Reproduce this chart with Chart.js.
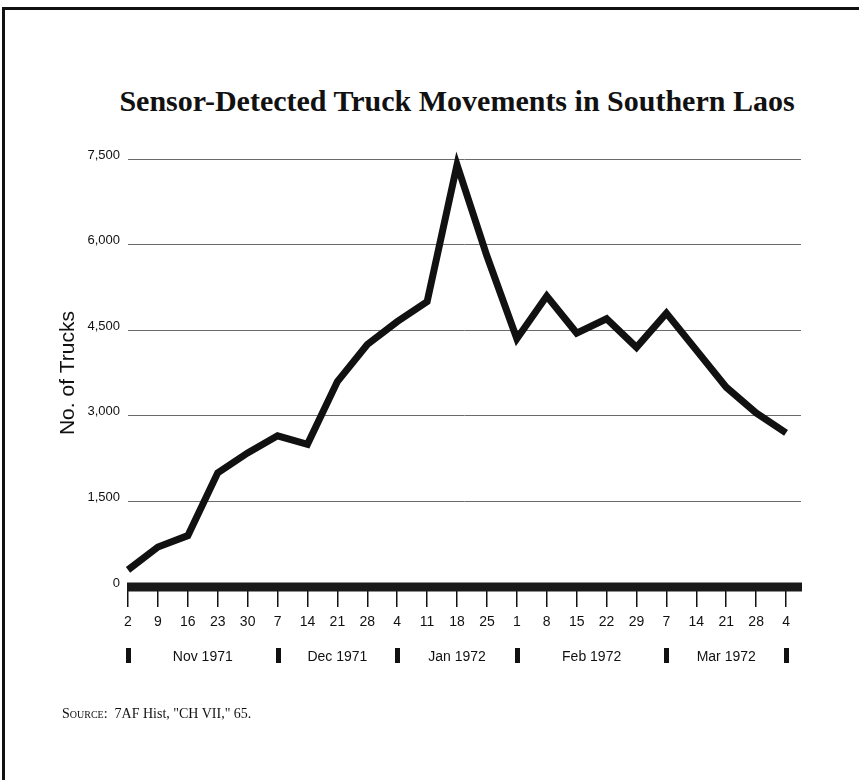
<!DOCTYPE html>
<html>
<head>
<meta charset="utf-8">
<script src="https://cdn.jsdelivr.net/npm/chart.js@4/dist/chart.umd.min.js"></script>
<style>
  html, body { margin: 0; padding: 0; background: #fff; }
  #page { position: relative; width: 859px; height: 780px; overflow: hidden; }
  #frame { position: absolute; left: 2px; top: 7px; right: -10px; bottom: -10px;
           border-top: 3px solid #111; border-left: 3px solid #111; }
  #title { position: absolute; top: 84px; left: 57px; width: 800px; text-align: center;
           font: bold 30px "Liberation Serif", "Times New Roman", serif; color: #111; }
  #source { position: absolute; top: 706px; left: 62px;
            font: 14px "Liberation Serif", "Times New Roman", serif; color: #111; }
  #chartBox { position: absolute; left: 0; top: 0; width: 859px; height: 780px; }
</style>
</head>
<body>
<div id="page">
  <div id="frame"></div>
  <div id="title">Sensor-Detected Truck Movements in Southern Laos</div>
  <div id="chartBox"><canvas id="truckChart"></canvas></div>
  <div id="source"><span style="font-variant: small-caps">Source:</span>&nbsp; 7AF Hist, "CH VII," 65.</div>
</div>
<script>
// weekly readings, 2 Nov 1971 - 4 Mar 1972
var dayLabels = ["2", "9", "16", "23", "30", "7", "14", "21", "28", "4", "11", "18", "25",
                 "1", "8", "15", "22", "29", "7", "14", "21", "28", "4"];
var truckCounts = [300, 700, 900, 2000, 2350, 2650, 2500, 3600, 4250, 4650, 5000, 7400, 5800,
                   4350, 5100, 4450, 4700, 4200, 4800, 4150, 3500, 3050, 2700];
var monthNames = ["Nov 1971", "Dec 1971", "Jan 1972", "Feb 1972", "Mar 1972"];
var monthBreaks = [0, 5, 9, 13, 18, 22]; // index of the week where each month marker sits
var yMax = 7500;
var yStep = 1500;

Chart.defaults.font.family = '"Liberation Sans", Arial, Helvetica, sans-serif';
Chart.defaults.color = "#111";

// thick base bar, month markers and month names
var axisExtras = {
  id: "axisExtras",
  beforeDatasetsDraw(chart) {
    const ctx = chart.ctx;
    const area = chart.chartArea;
    const y0 = chart.scales.y.getPixelForValue(0);
    ctx.save();
    ctx.fillStyle = "#1a1a1a";
    ctx.fillRect(area.left - 1, y0 - 4.5, area.right - area.left + 2, 9);
    ctx.restore();
  },
  afterDraw(chart) {
    const ctx = chart.ctx;
    const x = chart.scales.x;
    ctx.save();
    ctx.fillStyle = "#111";
    monthBreaks.forEach((b) => {
      ctx.fillRect(Math.round(x.getPixelForValue(b)) - 2, 648, 5, 15);
    });
    ctx.font = '14px "Liberation Sans", Arial, sans-serif';
    ctx.textAlign = "center";
    ctx.textBaseline = "middle";
    monthNames.forEach((m, i) => {
      const mid = (monthBreaks[i] + monthBreaks[i + 1]) / 2;
      ctx.fillText(m, x.getPixelForValue(mid), 657);
    });
    ctx.restore();
  },
};

const chart = new Chart(document.getElementById("truckChart"), {
  type: "line",
  data: {
    datasets: [
      {
        data: truckCounts.map((v, i) => ({ x: i, y: v })),
        borderColor: "#111",
        borderWidth: 7,
        borderJoinStyle: "miter",
        borderCapStyle: "butt",
        pointRadius: 0,
        tension: 0,
        clip: false,
      },
    ],
  },
  options: {
    responsive: true,
    maintainAspectRatio: false,
    animation: false,
    layout: { padding: { left: 0, right: 58, top: 159, bottom: 133 } },
    plugins: {
      legend: { display: false },
      tooltip: { enabled: false },
    },
    scales: {
      x: {
        type: "linear",
        min: 0,
        max: 22.5,
        afterFit: (s) => { s.height = 60; },
        border: { display: false },
        grid: { drawOnChartArea: false, drawTicks: true, tickLength: 20, color: "#111", lineWidth: 1.5 },
        ticks: {
          stepSize: 1,
          maxTicksLimit: 40,
          includeBounds: false,
          autoSkip: false,
          maxRotation: 0,
          padding: 7,
          font: { size: 14 },
          callback: (v) => (Number.isInteger(v) ? dayLabels[v] : ""),
        },
      },
      y: {
        min: 0,
        max: yMax,
        afterFit: (s) => { s.width = 128; },
        border: { display: false },
        grid: { drawTicks: false, color: "#6a6a6a", lineWidth: 1 },
        ticks: {
          stepSize: yStep,
          padding: 8,
          labelOffset: -4,
          font: { size: 13 },
          callback: (v) => v.toLocaleString("en-US"),
        },
        title: {
          display: true,
          text: "No. of Trucks",
          font: { size: 21 },
          padding: { top: 56, bottom: 0 },
        },
      },
    },
  },
  plugins: [axisExtras],
});
</script>
</body>
</html>
